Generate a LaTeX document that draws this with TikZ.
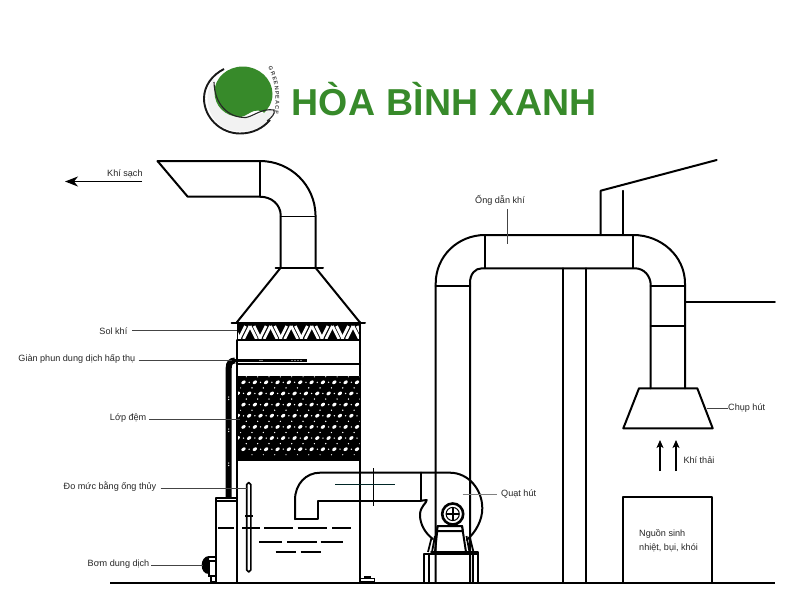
\documentclass[tikz,border=0pt]{standalone}
\usepackage{fontspec}
\setmainfont{Liberation Sans}
\newfontfamily\titlefont[LetterSpace=1.0]{Liberation Sans}
\usetikzlibrary{decorations.text,arrows.meta}
\definecolor{logogreen}{HTML}{378A2A}
\definecolor{leader}{HTML}{444444}
\tikzset{
 ln/.style={line width=2pt,black,line cap=round,line join=round},
 thn/.style={line width=1.7pt,black,line cap=round,line join=round},
 lead/.style={line width=0.85pt,leader},
 lbl/.style={font=\fontsize{9.1}{11}\selectfont,text=black!85,inner sep=0pt},
 wave/.style={line width=1.7pt,black}
}
\begin{document}
\begin{tikzpicture}[x=1pt,y=-1pt]
\useasboundingbox (0,0) rectangle (800,600);
\fill[white] (0,0) rectangle (800,600);

% ---------- logo
\fill[black!5] (214,78) .. controls (205,90) and (204,112) .. (220,125) .. controls (232,134) and (254,134) .. (268,121)
  .. controls (272,117) and (276,113) .. (274,110) .. controls (266,110) and (258,116) .. (248,117)
  .. controls (232,118) and (216,105) .. (214,78) -- cycle;
\draw[line width=1.9pt,black!90] (224,69) .. controls (212,75) and (204,86) .. (204,98.5)
  .. controls (204,117) and (220,133.5) .. (240,133.5) .. controls (253,133.5) and (263,128) .. (270,120);
\fill[logogreen] (243,66.5) .. controls (259,66.5) and (272.5,79) .. (272.5,94) .. controls (272.5,103) and (268,109) .. (264,113)
  .. controls (263,111) and (259,110) .. (254,111) .. controls (250,112) and (246,116) .. (241,117)
  .. controls (225,117) and (214.5,106) .. (214.5,92) .. controls (214.5,78) and (227,66.5) .. (243,66.5) -- cycle;
\draw[line width=1.1pt,black!85] (214,82) .. controls (214.5,104) and (228,118) .. (246,117.5)
  .. controls (254,116) and (262,108) .. (274,110) .. controls (275.5,114) and (271,118) .. (267,121);
\path[decorate,decoration={text along path,text align={fit to path},text={|\fontsize{5.5}{6}\selectfont\bfseries\color{black!75}|GREENPEACE}}]
  (268,68) .. controls (275,78) and (277,97) .. (274.5,114);
\node[inner sep=0pt,anchor=base west,text=logogreen] (title) at (291,115.7) {\fontsize{37.5}{40}\selectfont\bfseries\titlefont HÒA BÌNH XANH};

% ---------- ground
\coordinate (gl) at (110,582.5); \coordinate (gr) at (775,582.5);
\draw[line width=2pt] (gl) -- (gr);

% ---------- stack and hood
\draw[ln] (157.5,161) -- (260,161) .. controls (290.4,161) and (315,185) .. (315.5,215) -- (315.5,267.7);
\draw[ln] (157.5,161) -- (187.7,196.7) -- (260,196.7) .. controls (272,196.7) and (280.5,205) .. (280.7,215) -- (280.7,267.7);
\draw[thn] (260,161) -- (260,196.7);
\draw[thn] (280.7,216.5) -- (315.5,216.5);
\draw[ln] (275.7,267.7) -- (323,267.7);
\draw[ln] (280.7,267.7) -- (236.7,322.5);
\draw[ln] (315.5,267.7) -- (360,322.5);
\draw[ln] (231.7,322.7) -- (365,322.7);

% ---------- mist eliminator
\fill[black] (236.5,323) rectangle (360.5,340.5);
\begin{scope}
\clip (238,325) rectangle (359,338.5);
\foreach \k in {-1,0,1,2,3,4,5,6}{
  \begin{scope}[xshift=\k*20.6pt]
  \draw[white,line width=2.7pt] (239,339) -- (245.5,326);
  \draw[white,line width=2.7pt] (243.5,339) -- (250,326);
  \draw[white,line width=2.7pt] (250,326) -- (256.5,339);
  \draw[white,line width=2.7pt] (254.1,326) -- (260.6,339);
  \end{scope}
}
\end{scope}
% tower walls
\draw[ln] (237,340) -- (237,582);
\draw[ln] (360,322) -- (360,582);

% ---------- spray header and pipe
\draw[ln] (237,363.7) -- (360,363.7);
\draw[line width=3.4pt] (233,360.5) -- (306.7,360.5);
\draw[line width=6pt,black] (228.7,497) -- (228.7,368) .. controls (228.7,363) and (231,360.5) .. (235,360.5);
\foreach \px/\py in {228.7/397,228.7/399.5,228.7/429,228.7/431.5,228.7/463,228.7/465.5}{
  \fill[white] (\px,\py) circle (0.7);
}
\foreach \px in {260,262,292,295,298,301}{\fill[white] (\px,360.5) circle (0.55);}

% ---------- packing
\fill[black] (236.5,375.5) rectangle (361,460.5);
\begin{scope}
\clip (238,376.5) rectangle (359.5,459);
\foreach \r in {0,...,6}{
  \pgfmathsetmacro{\yy}{382.3+\r*11.15}
  \pgfmathsetmacro{\off}{mod(\r,2)*5.7}
  \foreach \c in {0,...,10}{
    \pgfmathsetmacro{\xx}{243.5+\c*11.35-\off}
    \fill[white,rotate around={35:(\xx,\yy)}] (\xx,\yy) ellipse (2.4pt and 1.6pt);
    \fill[white] (\xx+5.7,\yy) circle (0.75);
    \fill[white] (\xx+2.8,\yy-5.5) circle (0.6);
    \fill[white] (\xx+8.5,\yy+5.5) circle (0.6);
  }
}
\end{scope}

% ---------- sump
\draw[ln] (237,498) -- (215.7,498) -- (215.7,582);
\draw[thn] (216,501) -- (237,501);
\draw[line width=1.6pt,rounded corners=1.8pt] (246.7,482.7) rectangle (250.8,571.7);
\draw[line width=1.2pt] (245,516) -- (252.5,516);
\foreach \a/\b in {218.3/234,242.3/260,264.3/293.3,297.7/326.7,332.3/350.7}{\draw[wave] (\a,527.7) -- (\b,527.7);}
\foreach \a/\b in {259/281.7,287.3/316.7,320.7/343.3}{\draw[wave] (\a,541.7) -- (\b,541.7);}
\foreach \a/\b in {275.7/295.7,300.7/321}{\draw[wave] (\a,552.3) -- (\b,552.3);}

% pump
\fill[black] (209,556) .. controls (204,556) and (201.7,561) .. (201.7,565) .. controls (201.7,570) and (204,574) .. (209,574) -- cycle;
\draw[line width=1.5pt,fill=white] (209,561) rectangle (215.5,576);
\draw[line width=1.2pt] (211,576) rectangle (215.5,582);
\draw[line width=1.4pt] (209,557) -- (215.5,557);
% drain
\fill[black] (364,575.5) rectangle (371,578.5);
\draw[line width=1.2pt] (360.5,578.5) rectangle (374.5,582);

% ---------- fan inlet duct
\draw[ln] (295,519) -- (295,500) .. controls (295,484) and (306,472.7) .. (320,472.7) -- (450,472.7)
  .. controls (468,472.7) and (482.3,489) .. (482.3,508.3) .. controls (482.3,520) and (476,532) .. (466.7,540);
\draw[ln] (295,519) -- (318.3,519) -- (318.3,500.7) -- (421,500.7) -- (421,472.7);
\draw[ln] (421,500.7) -- (426.7,500) .. controls (427,503) and (420,506) .. (420,515)
  .. controls (420,525) and (426,534) .. (433,539);
\draw[line width=1.3pt] (373.3,468) -- (373.3,506);
\draw[line width=1.6pt,black!70!teal] (335,484.3) -- (395,484.3);

% fan base / motor
\draw[line width=2.6pt] (452.7,514) circle (10.5);
\draw[line width=1pt] (452.7,514) circle (6.6);
\draw[line width=1.8pt] (446,514) -- (459.4,514) (452.7,507.3) -- (452.7,520.7);
\draw[ln,fill=white] (437.7,526) -- (462,526) -- (466,552) -- (435,552) -- cycle;
\draw[ln,fill=white] (437.7,526) -- (462,526) -- (462.7,531) -- (437,531) -- cycle;
\draw[line width=1.8pt] (431.5,538) -- (428,552) (435,536) -- (432,552);
\draw[line width=1.8pt] (470,538) -- (473.5,552) (466.5,536) -- (469.5,552);
\draw[ln] (424.3,582) -- (424.3,554) -- (478.3,554) -- (478.3,582);
\draw[ln] (429.3,582) -- (429.3,554) (473,582) -- (473,554);
\draw[ln] (431,551.5) -- (478.3,551.5) -- (478.3,556);

% ---------- main duct
\draw[ln] (435.7,582) -- (435.7,283.5) .. controls (435.7,256) and (458,235) .. (485,235) -- (633.3,235)
  .. controls (661,235) and (685,256) .. (685,283.5) -- (685,388.3);
\draw[ln] (470,582) -- (470,283) .. controls (470,274) and (475,268.3) .. (482,268.3) -- (635,268.3)
  .. controls (644,268.3) and (650.7,276) .. (650.7,285) -- (650.7,388.3);
\draw[thn] (485,235) -- (485,268.3) (633.3,235) -- (633.3,268.3);
\draw[ln] (435.7,285.5) -- (470,285.5) (650.7,285.7) -- (685,285.7);
\draw[thn] (650.7,325.7) -- (685,325.7);
\draw[ln] (562.7,268.3) -- (562.7,582);
\draw[thn] (585.7,268.3) -- (585.7,582);
\draw[ln] (600.7,235) -- (600.7,190.7) -- (716.7,160);
\draw[thn] (622.7,190.7) -- (622.7,235);
\draw[thn] (685,302.3) -- (775,302.3);

% ---------- capture hood
\draw[ln] (639,388.3) -- (697.3,388.3) -- (712.7,428.3) -- (623.3,428.3) -- cycle;

% ---------- source box
\draw[ln] (623.3,582) -- (623.3,497.3) -- (712.3,497.3) -- (712.3,582);
\node[lbl,anchor=west] (src1) at (639,534) {Nguồn sinh};
\node[lbl,anchor=west] (src2) at (639,548) {nhiệt, bụi, khói};

% ---------- emission arrows
\coordinate (a1s) at (660,471); \coordinate (a1e) at (660,440);
\coordinate (a2s) at (676,471); \coordinate (a2e) at (676,440);
\draw[line width=1.2pt,-{Stealth[length=8pt,width=7pt,inset=2pt]}] (a1s) -- (a1e);
\draw[line width=1.2pt,-{Stealth[length=8pt,width=7pt,inset=2pt]}] (a2s) -- (a2e);
\node[lbl,anchor=west] (kt) at (683.3,460) {Khí thải};

% ---------- clean gas arrow
\node[lbl,anchor=west] (ks) at (107,173.5) {Khí sạch};
\coordinate (cs1) at (142,181.5); \coordinate (cs2) at (65,181.5);
\draw[line width=1.3pt,-{Stealth[length=13pt,width=10pt,inset=4pt]}] (cs1) -- (cs2);

% ---------- labels + leaders
\node[lbl,anchor=east] (sol) at (127.5,330.7) {Sol khí};
\coordinate (solp) at (237,330.7); \draw[lead] (sol.east)+(4.5,0) -- (solp);
\node[lbl,anchor=east] (gian) at (135.5,359.3) {Giàn phun dung dịch hấp thụ};
\coordinate (gianp) at (232,360); \draw[lead] (gian.east)+(3,0.7) -- (gianp);
\node[lbl,anchor=east] (lop) at (146.5,418.3) {Lớp đệm};
\coordinate (lopp) at (240,419.5); \draw[lead] (lop.east)+(2.5,1.2) -- (lopp);
\node[lbl,anchor=east] (do) at (156.5,486) {Đo mức bằng ống thủy};
\coordinate (dop) at (247,488.3); \draw[lead] (do.east)+(4,2.3) -- (dop);
\node[lbl,anchor=east] (bom) at (149.5,564) {Bơm dung dịch};
\coordinate (bomp) at (203,565); \draw[lead] (bom.east)+(1.5,1) -- (bomp);
\node[lbl,anchor=west] (quat) at (501,494.5) {Quạt hút};
\coordinate (quatp) at (462.7,494.7); \draw[lead,black!50] (quatp) -- (497.3,494.7);
\node[lbl,anchor=center] (ong) at (500,200.7) {Ống dẫn khí};
\coordinate (ongp) at (507.3,244); \draw[lead] (507.3,209) -- (ongp);
\node[lbl,anchor=west] (chup) at (728,408.3) {Chụp hút};
\coordinate (chupp) at (707,408.3); \draw[lead] (chupp) -- (chup.west);
\end{tikzpicture}
\end{document}
